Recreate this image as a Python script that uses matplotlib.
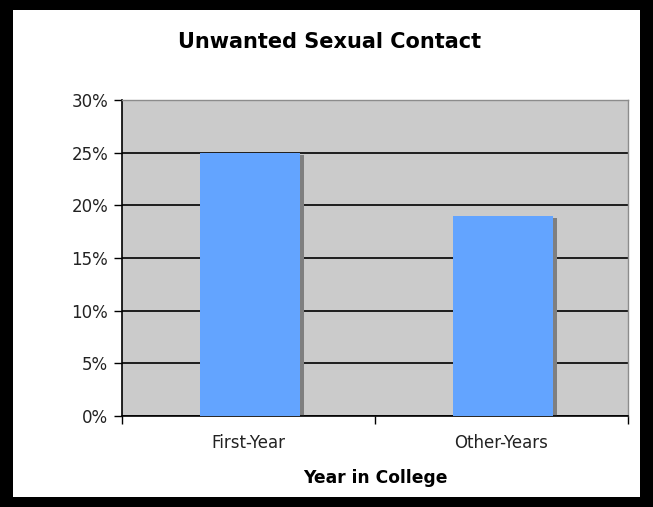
import matplotlib.pyplot as plt
from matplotlib.patches import Rectangle
from matplotlib.ticker import FuncFormatter

# ================= DATA =================
categories = ['First-Year', 'Other-Years']
values = [0.25, 0.19]
y_ticks = [0, 0.05, 0.10, 0.15, 0.20, 0.25, 0.30]

BAR_COLOR = '#63A4FF'
SHADOW_COLOR = '#7F7F7F'
PLOT_BG = '#CBCBCB'

W, H = 653, 507
fig = plt.figure(figsize=(W / 100, H / 100), dpi=100)
fig.patch.set_facecolor('black')

# white panel inside the black frame
fig.patches.append(Rectangle((13 / W, 10 / H), (640 - 13) / W, (497 - 10) / H,
                             transform=fig.transFigure, facecolor='white',
                             edgecolor='none', zorder=-10))

ax = fig.add_axes([122 / W, (H - 416) / H, (628 - 122) / W, (416 - 100) / H])
ax.set_facecolor(PLOT_BG)

x = list(range(len(categories)))
width = 0.395
# drop shadow on the right of each bar
ax.bar([i + 0.022 for i in x], [v - 0.002 for v in values], width=width,
       color=SHADOW_COLOR, zorder=2)
ax.bar([i + 0.006 for i in x], values, width=width, color=BAR_COLOR, zorder=3)

ax.set_xlim(-0.5, len(categories) - 0.5)
ax.set_ylim(0, 0.30)
ax.set_yticks(y_ticks)
ax.yaxis.set_major_formatter(FuncFormatter(lambda v, _: f'{v * 100:.0f}%'))
ax.grid(axis='y', color='black', linewidth=1.2, zorder=1)
ax.set_axisbelow(True)

ax.set_xticks([-0.5, 0.5, 1.5])
ax.set_xticklabels([])
ax.set_xticks(x, minor=True)
ax.set_xticklabels(categories, minor=True)
ax.tick_params(axis='x', which='minor', length=0, pad=13, labelsize=12, labelcolor='#222222')
ax.tick_params(axis='x', which='major', length=6, width=1, direction='out')
ax.tick_params(axis='y', length=6, width=1, direction='out', labelsize=12,
               labelcolor='#222222', pad=4)

for side in ['top', 'right']:
    ax.spines[side].set_color('#8C8C8C')
    ax.spines[side].set_linewidth(1)
for side in ['left', 'bottom']:
    ax.spines[side].set_color('black')
    ax.spines[side].set_linewidth(1.2)

ax.set_xlabel('Year in College', fontsize=12.3, fontweight='bold', labelpad=12)
fig.text(330 / W, 1 - 42 / H, 'Unwanted Sexual Contact',
         ha='center', va='center', fontsize=15, fontweight='bold')

plt.savefig('out.png', dpi=100)
